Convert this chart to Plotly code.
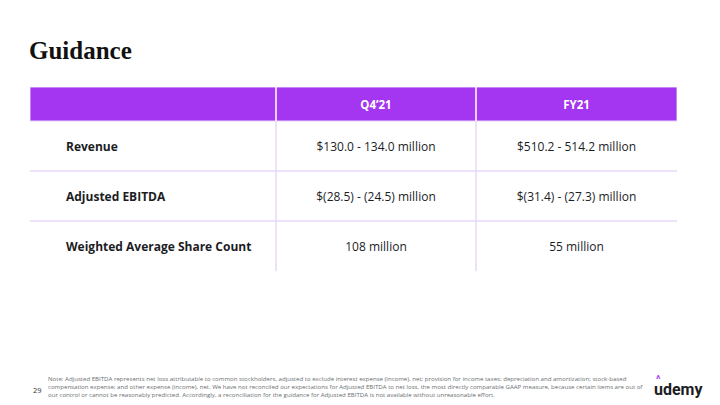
import plotly.graph_objects as go
import numpy as np

# ---- data ----
metrics = ["Revenue", "Adjusted EBITDA", "Weighted Average Share Count"]
periods = ["Q4’21", "FY21"]
q4_values = ["$130.0 - 134.0 million", "$(28.5) - (24.5) million", "108 million"]
fy_values = ["$510.2 - 514.2 million", "$(31.4) - (27.3) million", "55 million"]

title = "Guidance"
page_no = "29"
note = ("Note: Adjusted EBITDA represents net loss attributable to common stockholders, adjusted to exclude interest expense (income), net; provision for income taxes; depreciation and amortization; stock-based<br>"
        "compensation expense; and other expense (income), net. We have not reconciled our expectations for Adjusted EBITDA to net loss, the most directly comparable GAAP measure, because certain items are out of<br>"
        "our control or cannot be reasonably predicted. Accordingly, a reconciliation for the guidance for Adjusted EBITDA is not available without unreasonable effort.")

# ---- layout constants ----
W, H = 720, 405
col_widths = [246, 200, 201]
header_h = 34
row_h = 50
tbl_left, tbl_top = 30, 87
label_pad = 36
text_dy = 2  # baseline nudge

PURPLE = "#A435F0"
GRID = "#E8D8F8"
FONT = "Open Sans"

edges = np.concatenate([[0], np.cumsum(col_widths)])
tbl_w = edges[-1]
tbl_h = header_h + row_h * len(metrics)
row_centers = [header_h + row_h * (i + 0.5) + text_dy for i in range(len(metrics))]
col_centers = [(edges[i] + edges[i + 1]) / 2 for i in range(len(col_widths))]

fig = go.Figure()

# header shapes
fig.add_shape(type="rect", x0=0, x1=tbl_w, y0=0, y1=header_h, xref="x", yref="y",
              fillcolor=PURPLE, line=dict(color="#E9D6FB", width=1), layer="below")
for e in edges[1:-1]:
    fig.add_shape(type="line", x0=e, x1=e, y0=0, y1=header_h, xref="x", yref="y",
                  line=dict(color="white", width=1.5))
    fig.add_shape(type="line", x0=e, x1=e, y0=header_h, y1=tbl_h, xref="x", yref="y",
                  line=dict(color=GRID, width=1.5))
for i in range(1, len(metrics)):
    y = header_h + row_h * i
    fig.add_shape(type="line", x0=0, x1=tbl_w, y0=y, y1=y, xref="x", yref="y",
                  line=dict(color=GRID, width=1.5))

# header text
fig.add_trace(go.Scatter(
    x=col_centers[1:], y=[header_h / 2 + text_dy] * len(periods), mode="text",
    text=[f"<b>{p}</b>" for p in periods], textposition="middle center",
    textfont=dict(family=FONT, size=11.5, color="white"), hoverinfo="skip"))

# row labels
fig.add_trace(go.Scatter(
    x=[label_pad] * len(metrics), y=row_centers, mode="text",
    text=[f"<b>{m}</b>" for m in metrics], textposition="middle right",
    textfont=dict(family=FONT, size=12, color="#1c1d1f"), hoverinfo="skip"))

# values
for ci, vals in zip([1, 2], [q4_values, fy_values]):
    fig.add_trace(go.Scatter(
        x=[col_centers[ci]] * len(vals), y=row_centers, mode="text",
        text=vals, textposition="middle center",
        textfont=dict(family=FONT, size=12, color="#1c1d1f"), hoverinfo="skip"))

# title
fig.add_annotation(text=f"<b>{title}</b>", x=27 / W, y=1 - 50 / H, xref="paper", yref="paper",
                   xanchor="left", yanchor="middle", showarrow=False,
                   font=dict(family="Liberation Serif", size=25, color="#111111"))
# page number
fig.add_annotation(text=page_no, x=31 / W, y=1 - 390 / H, xref="paper", yref="paper",
                   xanchor="left", yanchor="middle", showarrow=False,
                   font=dict(family=FONT, size=7.5, color="#333333"))
# note
fig.add_annotation(text=note, x=46 / W, y=1 - 386 / H, xref="paper", yref="paper",
                   xanchor="left", yanchor="middle", align="left", showarrow=False,
                   font=dict(family=FONT, size=6.1, color="#6a6f73"))
# logo
fig.add_annotation(text="<b>udemy</b>", x=652 / W, y=1 - 389 / H, xref="paper", yref="paper",
                   xanchor="left", yanchor="middle", showarrow=False,
                   font=dict(family="Roboto", size=16, color="#1c1d1f"))
fig.add_annotation(text="<b>^</b>", x=658 / W, y=1 - 379 / H, xref="paper", yref="paper",
                   xanchor="center", yanchor="middle", showarrow=False,
                   font=dict(family="Roboto", size=10, color=PURPLE))

fig.update_layout(
    width=W, height=H, margin=dict(l=0, r=0, t=0, b=0),
    paper_bgcolor="white", plot_bgcolor="white", showlegend=False,
    xaxis=dict(range=[0, tbl_w], domain=[tbl_left / W, (tbl_left + tbl_w) / W],
               visible=False, fixedrange=True),
    yaxis=dict(range=[tbl_h, 0], domain=[1 - (tbl_top + tbl_h) / H, 1 - tbl_top / H],
               visible=False, fixedrange=True),
)

fig.write_html("out.html", config={"displayModeBar": False},
               post_script="document.body.style.margin='0';document.body.style.overflow='hidden';")
